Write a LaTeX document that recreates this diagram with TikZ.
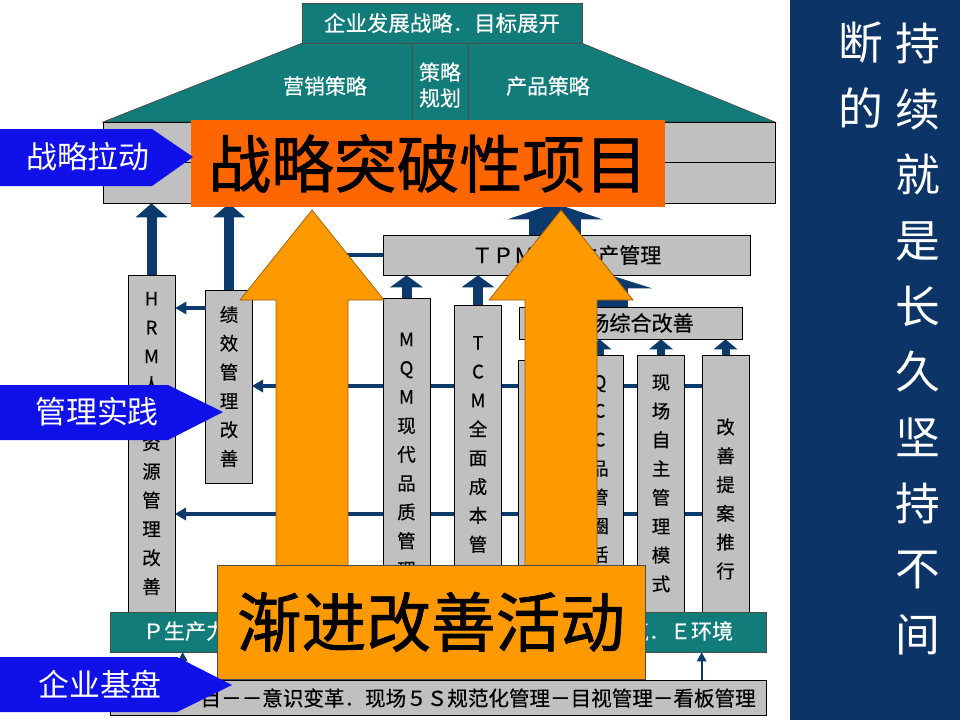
\documentclass[tikz,border=0pt]{standalone}
\usepackage{fontspec}
\setmainfont{Noto Sans CJK SC}
\newfontfamily\heiti{Noto Sans CJK SC}[FakeBold=1.2]
\newfontfamily\boxfont{Noto Sans CJK SC}[FakeBold=0.5]
\usepackage{xcolor}
\usetikzlibrary{arrows.meta,positioning}

\definecolor{roofteal}{RGB}{17,124,122}
\definecolor{navy}{RGB}{12,58,108}
\definecolor{panelblue}{RGB}{13,52,103}
\definecolor{boxgray}{RGB}{192,192,192}
\definecolor{redorange}{RGB}{255,102,0}
\definecolor{amber}{RGB}{255,153,0}
\definecolor{pushblue}{RGB}{16,16,232}

\newcommand{\pxfont}[2]{\fontsize{#1}{#2}\selectfont}

\begin{document}
\begin{tikzpicture}[x=0.02cm, y=-0.02cm,
  roofbox/.style={draw=black!70, fill=roofteal, text=white, inner sep=0pt, font=\boxfont\pxfont{12.2}{14}},
  rooftext/.style={text=white, inner sep=0pt, font=\boxfont\pxfont{11.9}{14.7}},
  graybox/.style={draw=black, fill=boxgray, inner sep=0pt, font=\boxfont\pxfont{12}{14}},
  coltext/.style={inner sep=0pt, align=center, font=\boxfont\pxfont{10.5}{16.4}},
  colbox/.style={coltext, draw=black, fill=boxgray, minimum width=0.94cm},
  pushtext/.style={text=white, inner sep=0pt, font=\pxfont{17.6}{20}},
  bigtext/.style={inner sep=0pt, font=\heiti\pxfont{35.7}{40}},
  navyup/.style n args={3}{draw=navy, line width=#1, -{Triangle[width=#2, length=#3, line width=0pt]}},
  navyline/.style={draw=navy, line width=0.07cm, -{Triangle[width=0.26cm, length=0.22cm, line width=0pt]}},
  orangeup/.style={fill=amber, draw=amber!60!black, line width=0.4pt}]
\useasboundingbox (0,0) rectangle (960,720);

% Slogan panel
\fill[panelblue] (790,0) rectangle (960,720);
\node[text=white, align=center, inner sep=0pt, font=\pxfont{25.5}{37.4}] (slogana) at (918,339) {持\\续\\就\\是\\长\\久\\坚\\持\\不\\间};
\node[text=white, align=center, inner sep=0pt, font=\pxfont{25.5}{37.4}] (sloganb) at (861,75) {断\\的};

% Roof
\node[roofbox, minimum width=5.6cm, minimum height=0.8cm] (goal) at (442,23) {企业发展战略．目标展开};
\filldraw[fill=roofteal, draw=black!70] (goal.south west) -- (goal.south east) -- (775,122) -- (103,122) -- cycle;
\draw[black!70] (412,43) -- (412,122) (468,43) -- (468,122);
\node[rooftext] (sales) at (325,86) {营销策略};
\node[rooftext, align=center] (plan) at (440,85) {策略\\规划};
\node[rooftext] (product) at (548,86) {产品策略};

% Project band
\node[graybox, minimum width=13.44cm, minimum height=1.62cm] (band) at (439,162.5) {};
\draw (band.west) -- (band.east);

% Feedback lines behind the columns
\coordinate (fa) at (703,386);
\coordinate (fb) at (252,386);
\coordinate (fc) at (703,514);
\coordinate (fd) at (175,514);
\draw[navyline] (fa) -- (fb);
\draw[navyline] (fc) -- (fd);

% Columns
\node[colbox, minimum height=6.74cm] (hrm) at (151.5,443.5) {H\\R\\M\\人\\力\\资\\源\\管\\理\\改\\善};
\node[colbox, minimum height=3.86cm] (jx) at (229,386.5) {绩\\效\\管\\理\\改\\善};
\node[colbox, minimum height=6.28cm] (mqm) at (406.5,455) {M\\Q\\M\\现\\代\\品\\质\\管\\理};
\node[colbox, minimum height=6.14cm] (tcm) at (478,458.5) {T\\C\\M\\全\\面\\成\\本\\管\\理};
\node[colbox, minimum height=5.04cm] (hid) at (542,486) {};
\node[colbox, minimum height=5.14cm] (qcc) at (599.5,483.5) {Q\\C\\C\\品\\管\\圈\\活\\动};
\node[colbox, minimum height=5.14cm] (xczz) at (661,483.5) {现\\场\\自\\主\\管\\理\\模\\式};
\node[colbox, minimum height=5.14cm] (gstn) at (725.5,483.5) {};
\node[coltext] (gstntxt) at (725.5,499) {改\\善\\提\\案\\推\\行};

% Middle boxes
\node[graybox, minimum width=7.34cm, minimum height=0.8cm] (tpm) at (566.5,255) {ＴＰＭ全员生产管理};
\node[graybox, minimum width=4.46cm, minimum height=0.64cm] (xczh) at (630.5,323) {现场综合改善};

% Foundation bars
\node[roofbox, font=\boxfont\pxfont{12}{14}, minimum width=13.12cm, minimum height=0.8cm] (qcd) at (438,632) {Ｐ生产力．Ｑ品质．Ｃ成本．Ｄ交期．Ｓ安全．Ｍ士气．Ｅ环境};
\node[graybox, minimum width=13.12cm, minimum height=0.7cm] (base) at (438,697.5) {};
\node[anchor=east, inner sep=0pt, font=\boxfont\pxfont{11.7}{14}] (basetxt) at (756,698) {目－－意识变革．现场５Ｓ规范化管理－目视管理－看板管理};

% Flows
\coordinate (l0) at (206,308);
\draw[navyline] (l0) -- (l0 -| hrm.east);
\draw[navyup={0.2cm}{0.64cm}{0.28cm}] (hrm.north) -- (hrm.north |- band.south);
\draw[navyup={0.2cm}{0.64cm}{0.28cm}] (jx.north) -- (jx.north |- band.south);
\draw[navyup={0.2cm}{0.66cm}{0.24cm}] (mqm.north) -- (mqm.north |- tpm.south);
\draw[navyup={0.2cm}{0.66cm}{0.24cm}] (tcm.north) -- (tcm.north |- tpm.south);
\coordinate (tz) at ([xshift=-0.39cm]xczh.north);
\draw[navyup={0.66cm}{1.64cm}{0.26cm}] (tz) -- (tz |- tpm.south);
\coordinate (tb) at ([xshift=-0.23cm]tpm.north);
\draw[navyup={1.04cm}{1.9cm}{0.32cm}] (tb) -- (tb |- band.south);
\foreach \c in {qcc,xczz,gstn}
  \draw[navyup={0.16cm}{0.48cm}{0.2cm}] (\c.north) -- (\c.north |- xczh.south);
\coordinate (tl) at (300,255);
\draw[draw=navy, line width=0.07cm] (tpm.west) -- (tl);
\coordinate (bq) at ([xshift=1.46cm]base.north west);
\draw[navyup={0.04cm}{0.2cm}{0.18cm}] (bq) -- (bq |- qcd.south);
\draw[navyup={0.04cm}{0.2cm}{0.18cm}] (base.north -| gstn.west) -- (qcd.south -| gstn.west);

% Improvement arrows
\foreach \cx in {312,561}
  \filldraw[orangeup] (\cx,210) -- (\cx+72,300) -- (\cx+36,300) -- (\cx+36,570) -- (\cx-36,570) -- (\cx-36,300) -- (\cx-72,300) -- cycle;

% Project and activity boxes
\node[bigtext, fill=redorange, minimum width=9.48cm, minimum height=1.74cm] (tupo) at (428,163.5) {战略突破性项目};
\node[bigtext, font=\heiti\pxfont{36.8}{40}, fill=amber, draw=black!70, minimum width=8.56cm, minimum height=2.28cm] (jinjin) at (431,622) {渐进改善活动};

% Drivers
\fill[pushblue] (0,129) -- (152,129) -- (193,157) -- (152,186) -- (0,186) -- cycle;
\node[pushtext] (pull) at (88,157) {战略拉动};
\fill[pushblue] (0,385) -- (168,385) -- (223,412) -- (168,440) -- (0,440) -- cycle;
\node[pushtext] (practice) at (97,412) {管理实践};
\fill[pushblue] (0,657) -- (177,657) -- (232,685) -- (177,712) -- (0,712) -- cycle;
\node[pushtext] (basis) at (100,684) {企业基盘};

\end{tikzpicture}
\end{document}
